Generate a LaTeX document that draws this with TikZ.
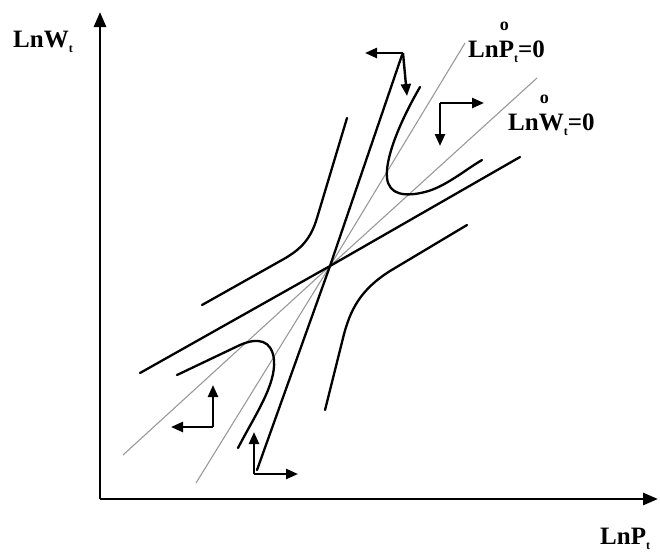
\documentclass[tikz,border=0pt]{standalone}
\usepackage{fontspec}
\setmainfont{Liberation Serif}
\usepackage{tikz}
\usetikzlibrary{arrows.meta}
\newcommand{\lowt}{\raisebox{-5pt}{\fontsize{12}{12}\selectfont t}}
\newcommand{\ringover}{\makebox[0pt][l]{\hspace{1pt}\raisebox{27pt}{\fontsize{18}{18}\selectfont o}}}

\begin{document}
\begin{tikzpicture}[x=1pt,y=-1pt,
  axis/.style={line width=2.8pt,-{Triangle[length=15pt,width=12pt]}},
  branch/.style={line width=2.3pt,line cap=round},
  zeroline/.style={line width=1.1pt,gray!80},
  dirarr/.style={line width=2.4pt,-{Triangle[length=12pt,width=10pt]}},
  lbl/.style={anchor=base west,inner sep=0pt,font=\fontsize{25}{28}\selectfont\bfseries}
]
\useasboundingbox (0,0) rectangle (660,552);

\coordinate (O) at (100,499);
\coordinate (ytop) at (100,12);
\coordinate (xend) at (658,499);
\coordinate (C) at (330,266);

\draw[axis] (O) -- (ytop);
\draw[axis] (O) -- (xend);

\node[lbl] (wlab) at (13,47) {LnW\lowt};
\node[lbl] (plab) at (600,544) {LnP\lowt};

\draw[zeroline] (196,483) -- (C) -- (465,43);
\draw[zeroline] (123,455) -- (C) -- (537,78);

\node[lbl] (pzero) at (468,57) {Ln\ringover P\lowt=0};
\node[lbl] (wzero) at (508,130) {Ln\ringover W\lowt=0};

\draw[branch] (257,470) -- (C) -- (402,55);
\draw[branch] (140,373) -- (C) -- (520,157);

\draw[branch] (202,305) -- (282,260) .. controls (302,249) and (311,238) .. (317,218) -- (347,118);
\draw[branch] (325,410) -- (343,338) .. controls (350,310) and (360,290) .. (390,271) -- (467,225);
\draw[branch] (420,87) .. controls (398,125) and (385,160) .. (387,178) .. controls (389,195) and (405,197) .. (425,192) .. controls (445,187) and (465,170) .. (482,160);
\draw[branch] (177,375) -- (240,345) .. controls (258,337) and (272,340) .. (274,360) .. controls (276,385) and (255,415) .. (238,448);

\coordinate (q1) at (403,53);
\coordinate (q2) at (440,103);
\coordinate (q3) at (213,427);
\coordinate (q4) at (254,474);

\draw[dirarr] (q1) -- (365,53);
\draw[dirarr] (q1) -- (407,96);
\draw[dirarr] (q2) -- (484,103);
\draw[dirarr] (q2) -- (440,146);
\draw[dirarr] (q3) -- (213,385);
\draw[dirarr] (q3) -- (171,427);
\draw[dirarr] (q4) -- (254,432);
\draw[dirarr] (q4) -- (298,474);
\end{tikzpicture}
\end{document}
